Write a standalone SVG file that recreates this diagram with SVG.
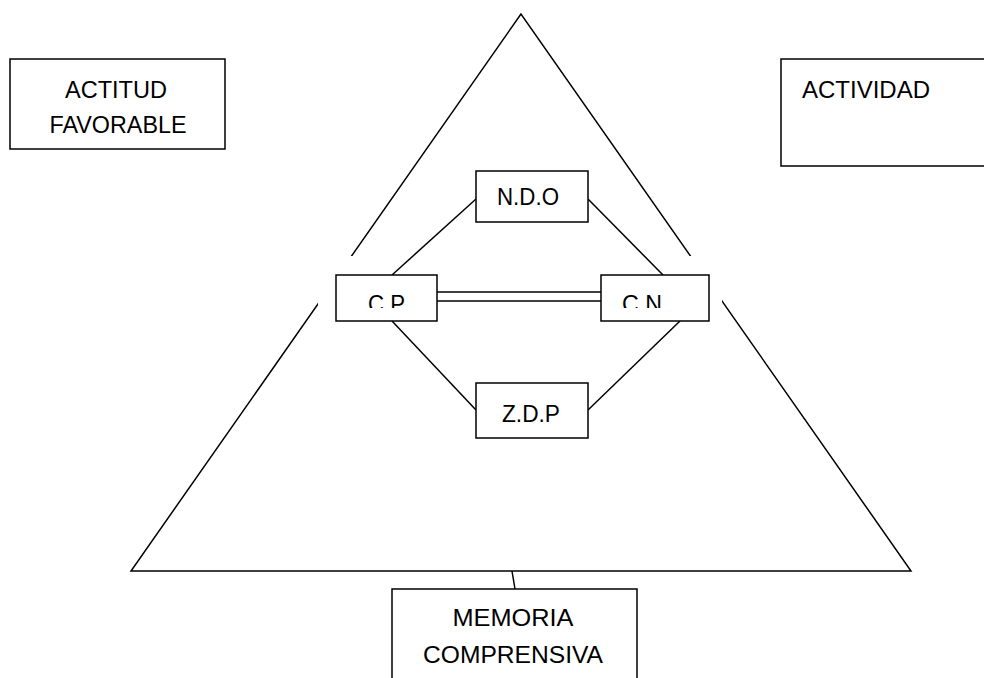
<svg xmlns="http://www.w3.org/2000/svg" width="984" height="678" viewBox="0 0 984 678">
<style>
.box{fill:#fff;stroke:#000;stroke-width:1.5}
.ln{fill:none;stroke:#000;stroke-width:1.5}
.t{font-family:"Liberation Sans",Arial,sans-serif;font-size:24px;fill:#000}
</style>
<defs>
<clipPath id="cpc"><rect x="336" y="275" width="101" height="33"/></clipPath>
<clipPath id="cnc"><rect x="601" y="275" width="108" height="33"/></clipPath>
</defs>
<rect width="984" height="678" fill="#fff"/>
<g id="triangle"><polygon class="ln" points="521,14 131,571 911,571"/></g>
<rect id="canvas" x="318" y="256" width="404" height="70" fill="#fff"/>
<g id="connectors">
<line class="ln" x1="476" y1="199" x2="392" y2="275"/>
<line class="ln" x1="588" y1="199" x2="663" y2="275"/>
<line class="ln" x1="392" y1="321" x2="476" y2="410"/>
<line class="ln" x1="680" y1="321" x2="588" y2="410"/>
<line class="ln" x1="437" y1="292" x2="601" y2="292"/>
<line class="ln" x1="437" y1="301" x2="601" y2="301"/>
<line class="ln" x1="512" y1="571" x2="515" y2="589"/>
</g>
<g id="actitud">
<rect class="box" x="10" y="59" width="215" height="90"/>
<text class="t" x="116" y="98" text-anchor="middle" textLength="102" lengthAdjust="spacingAndGlyphs">ACTITUD</text>
<text class="t" x="118" y="133" text-anchor="middle" textLength="137" lengthAdjust="spacingAndGlyphs">FAVORABLE</text>
</g>
<g id="actividad">
<rect class="box" x="781" y="59" width="220" height="107"/>
<text class="t" x="802" y="98" textLength="128" lengthAdjust="spacingAndGlyphs">ACTIVIDAD</text>
</g>
<g id="ndo">
<rect class="box" x="476" y="171" width="112" height="51"/>
<text class="t" x="497" y="205" textLength="62" lengthAdjust="spacingAndGlyphs">N.D.O</text>
</g>
<g id="zdp">
<rect class="box" x="476" y="383" width="112" height="55"/>
<text class="t" x="502" y="422" textLength="58" lengthAdjust="spacingAndGlyphs">Z.D.P</text>
</g>
<g id="cp">
<rect class="box" x="336" y="275" width="101" height="46"/>
<text class="t" x="368" y="312" textLength="37" lengthAdjust="spacingAndGlyphs" clip-path="url(#cpc)">C.P</text>
</g>
<g id="cn">
<rect class="box" x="601" y="275" width="108" height="46"/>
<text class="t" x="622" y="312" textLength="40" lengthAdjust="spacingAndGlyphs" clip-path="url(#cnc)">C.N</text>
</g>
<g id="memoria">
<rect class="box" x="392" y="589" width="245" height="100"/>
<text class="t" x="513" y="626" text-anchor="middle" textLength="121" lengthAdjust="spacingAndGlyphs">MEMORIA</text>
<text class="t" x="513" y="663" text-anchor="middle" textLength="180" lengthAdjust="spacingAndGlyphs">COMPRENSIVA</text>
</g>
</svg>
